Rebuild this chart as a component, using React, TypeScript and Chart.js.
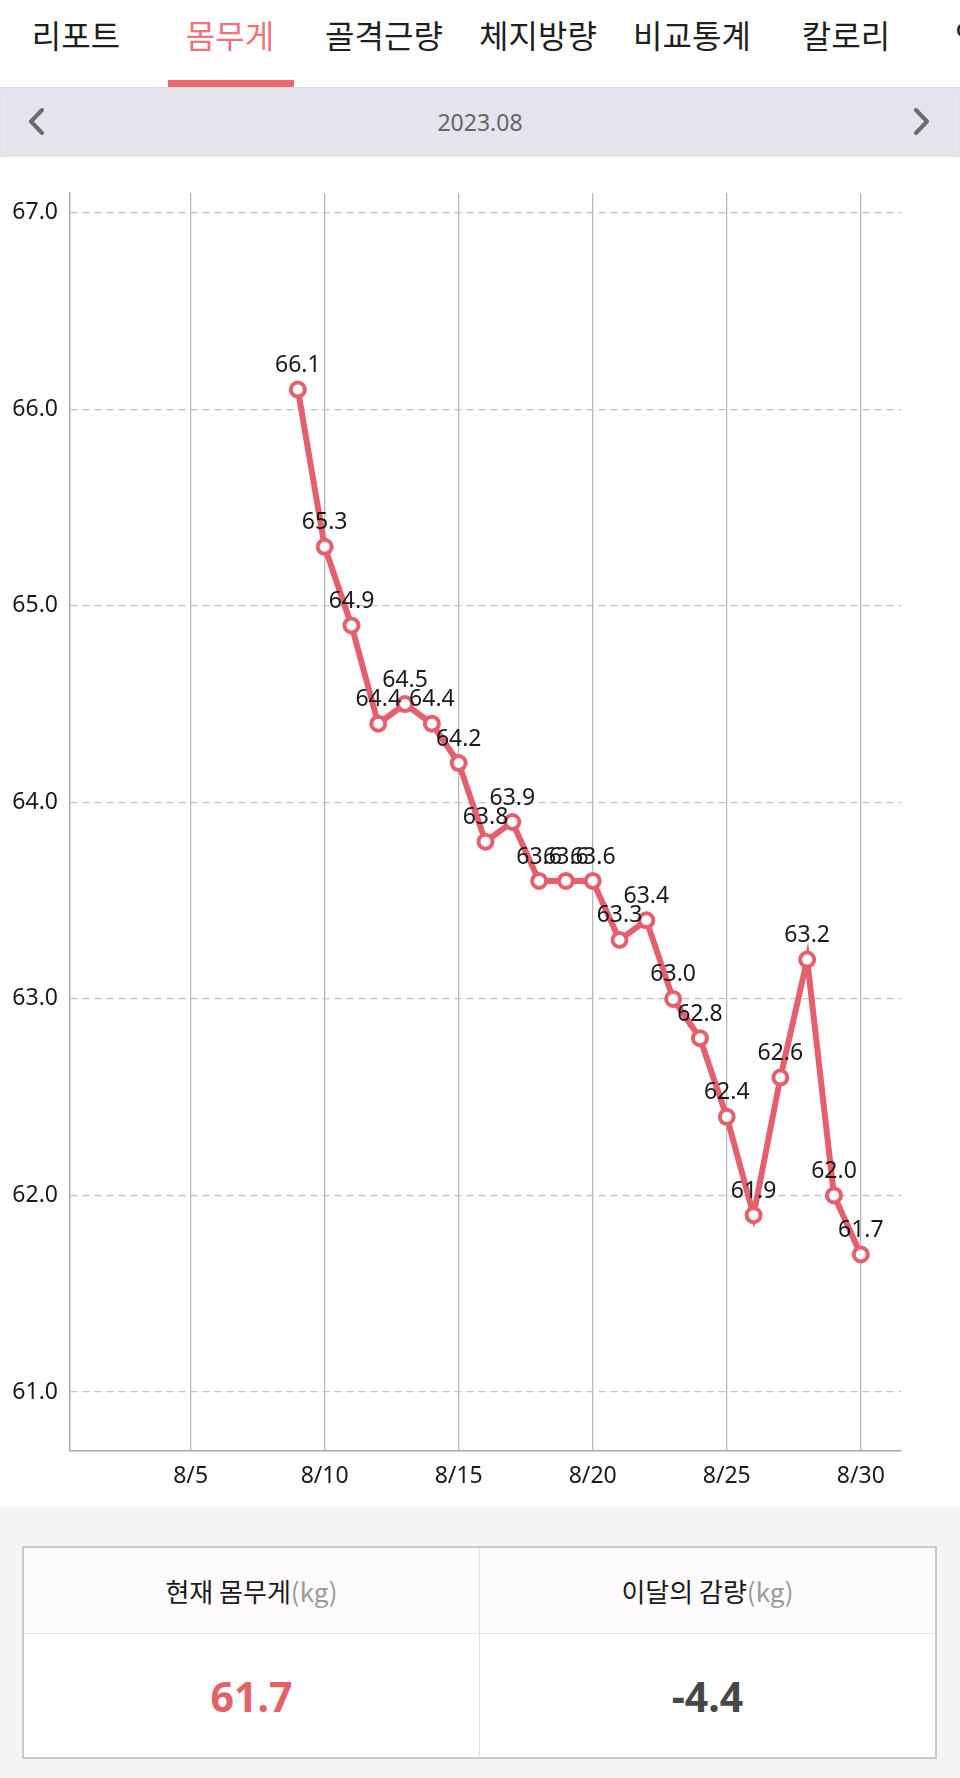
import React, { useEffect, useRef } from 'react';
import { Chart, registerables } from 'chart.js';

Chart.register(...registerables);

const tabs = ['리포트', '몸무게', '골격근량', '체지방량', '비교통계', '칼로리', '영양소'];
const activeTab = 1;
const monthTitle = '2023.08';

const dayLabels = [
  '8/1', '8/2', '8/3', '8/4', '8/5', '8/6', '8/7', '8/8', '8/9', '8/10',
  '8/11', '8/12', '8/13', '8/14', '8/15', '8/16', '8/17', '8/18', '8/19', '8/20',
  '8/21', '8/22', '8/23', '8/24', '8/25', '8/26', '8/27', '8/28', '8/29', '8/30', '8/31',
];

const weights: (number | null)[] = [
  null, null, null, null, null, null, null, null, 66.1, 65.3,
  64.9, 64.4, 64.5, 64.4, 64.2, 63.8, 63.9, 63.6, 63.6, 63.6,
  63.3, 63.4, 63.0, 62.8, 62.4, 61.9, 62.6, 63.2, 62.0, 61.7, null,
];

const yMin = 60.7;
const yMax = 67.1;

const currentWeight = '61.7';
const monthlyLoss = '-4.4';

const LINE = '#e5606e';

const valueLabelPlugin = {
  id: 'valueLabels',
  afterDatasetsDraw(chart: any) {
    const { ctx } = chart;
    const meta = chart.getDatasetMeta(0);
    const data = chart.data.datasets[0].data as (number | null)[];
    ctx.save();
    ctx.font = '23px "Noto Sans"';
    ctx.fillStyle = '#1a1a1a';
    ctx.textAlign = 'center';
    ctx.textBaseline = 'middle';
    meta.data.forEach((pt: any, i: number) => {
      const v = data[i];
      if (v == null) return;
      ctx.fillText(v.toFixed(1), pt.x, pt.y - 24);
    });
    ctx.restore();
  },
};

function WeightChart() {
  const ref = useRef<HTMLCanvasElement>(null);
  useEffect(() => {
    if (!ref.current) return;
    const chart = new Chart(ref.current, {
      type: 'line',
      data: {
        labels: dayLabels,
        datasets: [
          {
            data: weights,
            borderColor: LINE,
            borderWidth: 6,
            pointRadius: 7,
            pointBorderWidth: 4,
            pointBackgroundColor: '#ffffff',
            pointBorderColor: LINE,
            tension: 0,
            spanGaps: false,
          },
        ],
      },
      options: {
        responsive: false,
        animation: false,
        devicePixelRatio: 1,
        layout: { padding: { left: 10, right: 59, top: 36, bottom: 0 } },
        plugins: { legend: { display: false }, tooltip: { enabled: false } },
        scales: {
          x: {
            type: 'category',
            offset: true,
            afterFit: (s: any) => { s.height = 56; },
            grid: {
              offset: false,
              drawTicks: false,
              color: (c: any) => ((c.index + 1) % 5 === 0 ? '#b8b8b8' : 'rgba(0,0,0,0)'),
              lineWidth: 1.3,
            },
            border: { color: '#a8a8a8', width: 1.5 },
            ticks: {
              autoSkip: false,
              maxRotation: 0,
              padding: 12,
              color: '#1a1a1a',
              font: { family: '"Noto Sans"', size: 23 },
              callback: (_v: any, i: number) => ((i + 1) % 5 === 0 ? dayLabels[i] : ''),
            },
          },
          y: {
            min: yMin,
            max: yMax,
            afterFit: (s: any) => { s.width = 60; },
            grid: {
              drawTicks: false,
              color: '#c2c2c2',
              lineWidth: 1.3,
            },
            border: { color: '#a8a8a8', width: 1.5, dash: [7, 5] },
            ticks: {
              stepSize: 1,
              includeBounds: false,
              padding: 12,
              color: '#1a1a1a',
              font: { family: '"Noto Sans"', size: 23 },
              callback: (v: any) => Number(v).toFixed(1),
            },
          },
        },
      },
      plugins: [valueLabelPlugin],
    });
    return () => chart.destroy();
  }, []);
  return <canvas ref={ref} width={960} height={1350} style={{ display: 'block' }} />;
}

function Chevron({ dir }: { dir: 'left' | 'right' }) {
  const pts = dir === 'left' ? '14,2 3,13.5 14,25' : '3,2 14,13.5 3,25';
  return (
    <svg width={17} height={27} viewBox="0 0 17 27" style={{ display: 'block' }}>
      <polyline points={pts} fill="none" stroke="#6c6c6c" strokeWidth={4} strokeLinecap="round" strokeLinejoin="round" />
    </svg>
  );
}

export default function App() {
  useEffect(() => {
    document.body.style.margin = '0';
  }, []);
  const font = '"Noto Sans CJK KR", "Noto Sans", sans-serif';
  return (
    <div style={{ width: 960, height: 1778, overflow: 'hidden', background: '#f4f4f6', fontFamily: font, position: 'relative' }}>
      {/* tab bar */}
      <div style={{ position: 'relative', height: 87, background: '#fff', overflow: 'hidden' }}>
        <div style={{ display: 'flex', position: 'absolute', left: -1, top: 0, whiteSpace: 'nowrap' }}>
          {tabs.map((t, i) => (
            <div
              key={t}
              style={{
                width: 154,
                flex: '0 0 154px',
                textAlign: i === tabs.length - 1 ? 'left' : 'center',
                paddingLeft: i === tabs.length - 1 ? 32 : 0,
                boxSizing: 'border-box',
                fontSize: 32,
                lineHeight: '68px',
                color: i === activeTab ? '#e9767c' : '#1f1f1f',
              }}
            >
              {t}
            </div>
          ))}
        </div>
        <div style={{ position: 'absolute', left: 168, top: 80, width: 126, height: 7, background: '#ec6a6d' }} />
      </div>
      {/* date bar */}
      <div style={{ position: 'relative', height: 70, background: '#e5e4ed', boxShadow: 'inset 0 1px 2px rgba(0,0,0,0.06)' }}>
        <div style={{ position: 'absolute', left: 28, top: 21 }}><Chevron dir="left" /></div>
        <div style={{ position: 'absolute', left: 0, right: 0, top: 0, lineHeight: '70px', textAlign: 'center', fontSize: 23, color: '#666', fontFamily: '"Noto Sans", sans-serif' }}>
          {monthTitle}
        </div>
        <div style={{ position: 'absolute', left: 913, top: 21 }}><Chevron dir="right" /></div>
      </div>
      {/* chart */}
      <div style={{ background: '#fff', height: 1350 }}>
        <WeightChart />
      </div>
      {/* summary table */}
      <div style={{ position: 'absolute', left: 22, top: 1546, width: 915, height: 213, boxSizing: 'border-box', border: '2px solid #c9c9ce', background: '#fff' }}>
        <div style={{ display: 'flex', height: 85, background: '#fdfbfd', borderBottom: '1px solid #e4e4e8' }}>
          <div style={{ flex: 1, borderRight: '1px solid #e0e0e4', display: 'flex', alignItems: 'center', justifyContent: 'center', fontSize: 26, color: '#1a1a1a' }}>
            현재 몸무게<span style={{ color: '#9a9a9a' }}>(kg)</span>
          </div>
          <div style={{ flex: 1, display: 'flex', alignItems: 'center', justifyContent: 'center', fontSize: 26, color: '#1a1a1a' }}>
            이달의 감량<span style={{ color: '#9a9a9a' }}>(kg)</span>
          </div>
        </div>
        <div style={{ display: 'flex', height: 124 }}>
          <div style={{ flex: 1, borderRight: '1px solid #e0e0e4', display: 'flex', alignItems: 'center', justifyContent: 'center', fontSize: 41, fontWeight: 700, color: '#e2626a', fontFamily: '"Noto Sans", sans-serif' }}>
            {currentWeight}
          </div>
          <div style={{ flex: 1, display: 'flex', alignItems: 'center', justifyContent: 'center', fontSize: 41, fontWeight: 700, color: '#474747', fontFamily: '"Noto Sans", sans-serif' }}>
            {monthlyLoss}
          </div>
        </div>
      </div>
    </div>
  );
}
